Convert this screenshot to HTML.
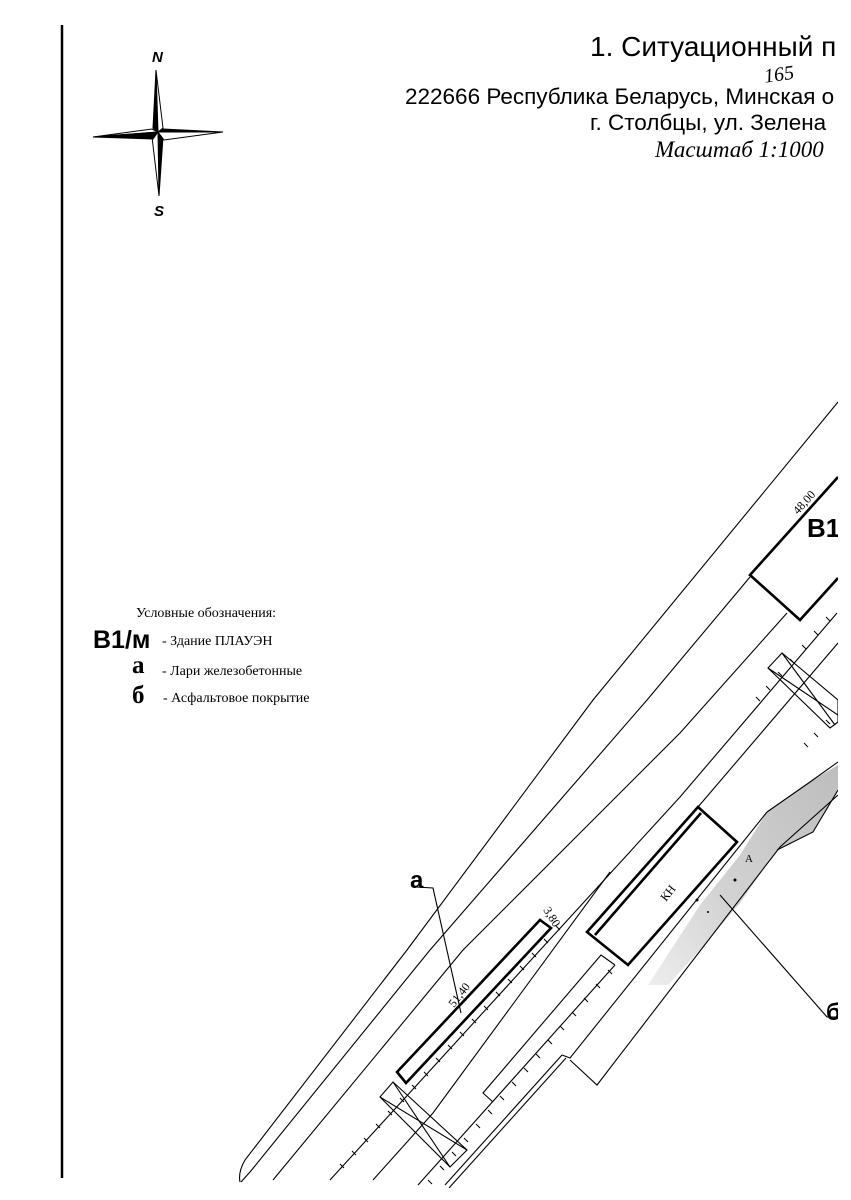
<!DOCTYPE html>
<html><head><meta charset="utf-8"><style>
html,body{margin:0;padding:0;background:#fff}
#p{position:relative;width:851px;height:1200px;overflow:hidden;background:#fff}
</style></head><body><div id="p">
<svg width="851" height="1200" viewBox="0 0 851 1200" xmlns="http://www.w3.org/2000/svg" style="position:absolute;left:0;top:0">
<defs><clipPath id="c"><rect x="0" y="0" width="838" height="1200"/></clipPath>
<linearGradient id="g" x1="1" y1="0" x2="0" y2="1"><stop offset="0" stop-color="#bdbdbd"/><stop offset="0.6" stop-color="#d3d3d3"/><stop offset="1" stop-color="#eeeeee"/></linearGradient></defs>
<line x1="62" y1="25" x2="62" y2="1178" stroke="#000" stroke-width="2.5"/>
<g stroke="#000" stroke-width="1">
<polygon points="156,70 153,128 158,132" fill="#000"/>
<polygon points="156,70 163,128 158,132" fill="#fff"/>
<polygon points="159,196 163,137 158,132" fill="#000"/>
<polygon points="159,196 152,137 158,132" fill="#fff"/>
<polygon points="93,137 152,129 158,132" fill="#fff"/>
<polygon points="93,137 153,139 158,132" fill="#000"/>
<polygon points="223,132 163,129 158,132" fill="#000"/>
<polygon points="223,132 164,140 158,132" fill="#fff"/>
</g>
<text x="152" y="62" font-family="Liberation Sans" font-weight="bold" font-style="italic" font-size="15">N</text>
<text x="154" y="216" font-family="Liberation Sans" font-weight="bold" font-style="italic" font-size="15">S</text>
<g clip-path="url(#c)">
<text x="590" y="56" font-family="Liberation Sans" font-size="28">1. Ситуационный п</text>
<text x="405" y="104" font-family="Liberation Sans" font-size="22.5">222666 Республика Беларусь, Минская о</text>
<text x="590" y="130" font-family="Liberation Sans" font-size="22.5">г. Столбцы, ул. Зелена</text>
<text x="655" y="157" font-family="Liberation Serif" font-style="italic" font-size="23">Масштаб 1:1000</text>
<text x="764" y="82" font-family="Liberation Serif" font-style="italic" font-size="20" transform="rotate(-8 770 75)">165</text>
<text x="136" y="617" font-family="Liberation Serif" font-size="14">Условные обозначения:</text>
<text x="93" y="648" font-family="Liberation Sans" font-weight="bold" font-size="25">B1/м</text>
<text x="162" y="645" font-family="Liberation Serif" font-size="14">- Здание ПЛАУЭН</text>
<text x="132" y="673" font-family="Liberation Serif" font-weight="bold" font-size="25">а</text>
<text x="162" y="675" font-family="Liberation Serif" font-size="14">- Лари железобетонные</text>
<text x="132" y="703" font-family="Liberation Serif" font-weight="bold" font-size="25">б</text>
<text x="163" y="702" font-family="Liberation Serif" font-size="14">- Асфальтовое покрытие</text>
<polygon points="767,812 810,782 838,765 838,790 813,832 777,850 740,903 700,950 668,985 648,985 700,905 740,855" fill="url(#g)"/>
<g fill="none" stroke="#000" stroke-width="1.1">
<path d="M767,812 L810,782 L838,762"/>
<path d="M838,790 L813,832 L777,850"/>
<path d="M838,402 L593,700 L407,950 L245,1160 Q238,1172 240,1182"/>
<path d="M750,577 L647,700 L430,950 L250,1172 L241,1182"/>
<path d="M787,613 L680,733 L463,950 L273,1180"/>
<path d="M838,643 L698,807"/>
<path d="M610,872 L433,1113 L373,1180"/>
<path d="M837,613 L680,797 L330,1180"/>
<path d="M615,965 L418,1185"/>
<path d="M562,1055 L445,1185"/>
<path d="M566,1058 L449,1188"/>
<path d="M767,812 L570,1058 L562,1055"/>
<path d="M838,795 L780,847 L597,1085 L570,1060"/>
<path d="M493,1102 L483,1093 L601,955 L615,965"/>
<polygon points="380,1097 393,1082 467,1150 450,1167"/>
<line x1="380" y1="1097" x2="467" y2="1150"/><line x1="393" y1="1082" x2="450" y2="1167"/>
<polygon points="768,668 782,653 838,700 838,722 830,728"/>
<line x1="768" y1="668" x2="838" y2="715"/><line x1="782" y1="653" x2="835" y2="725"/>
<path d="M416,887 L433,888 L461,1013"/>
<path d="M720,895 L827,1017 L838,1017"/>
</g>
<g stroke="#000" stroke-width="1">
<path d="M560,930l-4,-4 M548,943l-4,-4 M536,957l-4,-4 M524,970l-4,-4 M512,983l-4,-4 M500,996l-4,-4 M488,1010l-4,-4 M476,1023l-4,-4 M464,1036l-4,-4 M452,1049l-4,-4 M440,1062l-4,-4 M428,1076l-4,-4 M416,1089l-4,-4 M404,1102l-4,-4 M392,1115l-4,-4 M380,1128l-4,-4 M368,1142l-4,-4 M356,1155l-4,-4 M344,1168l-4,-4"/>
<path d="M612,974l-4,-4 M600,988l-4,-4 M588,1002l-4,-4 M576,1016l-4,-4 M564,1030l-4,-4 M552,1044l-4,-4 M540,1058l-4,-4 M528,1072l-4,-4 M516,1086l-4,-4 M504,1100l-4,-4 M492,1114l-4,-4 M480,1128l-4,-4 M468,1142l-4,-4 M456,1156l-4,-4 M444,1170l-4,-4 M432,1184l-4,-4"/>
<path d="M830,621l-4,-4 M818,635l-4,-4 M806,649l-4,-4 M794,663l-4,-4 M782,676l-4,-4 M770,690l-4,-4 M760,701l-4,-4"/>
<path d="M830,724l-4,-4 M818,737l-4,-4 M808,747l-4,-4"/>
</g>
<g fill="none" stroke="#000" stroke-width="2.6">
<path d="M838,477 L750,575 L800,620 L838,578"/>
<polygon points="397,1072 540,920 551,928 406,1083"/>
<polygon points="587,932 698,807 737,842 628,965"/>
<line x1="595" y1="935" x2="701" y2="813"/>
</g>
<circle cx="735" cy="880" r="1.5"/><circle cx="697" cy="900" r="1.5"/><circle cx="708" cy="912" r="1"/>
<text x="0" y="0" font-family="Liberation Serif" font-size="12" transform="translate(798,515) rotate(-48)">48,00</text>
<text x="807" y="537" font-family="Liberation Sans" font-weight="bold" font-size="26">B1</text>
<text x="0" y="0" font-family="Liberation Serif" font-size="12" transform="translate(454,1008) rotate(-52)">51,40</text>
<text x="0" y="0" font-family="Liberation Serif" font-size="12" transform="translate(543,910) rotate(58)">3,80</text>
<text x="0" y="0" font-family="Liberation Serif" font-size="12" transform="translate(666,902) rotate(-52)">КН</text>
<text x="745" y="862" font-family="Liberation Serif" font-size="11">А</text>
<text x="410" y="888" font-family="Liberation Sans" font-weight="bold" font-size="24">а</text>
<text x="826" y="1020" font-family="Liberation Sans" font-weight="bold" font-size="24">б</text>
</g>
</svg>
</div></body></html>
